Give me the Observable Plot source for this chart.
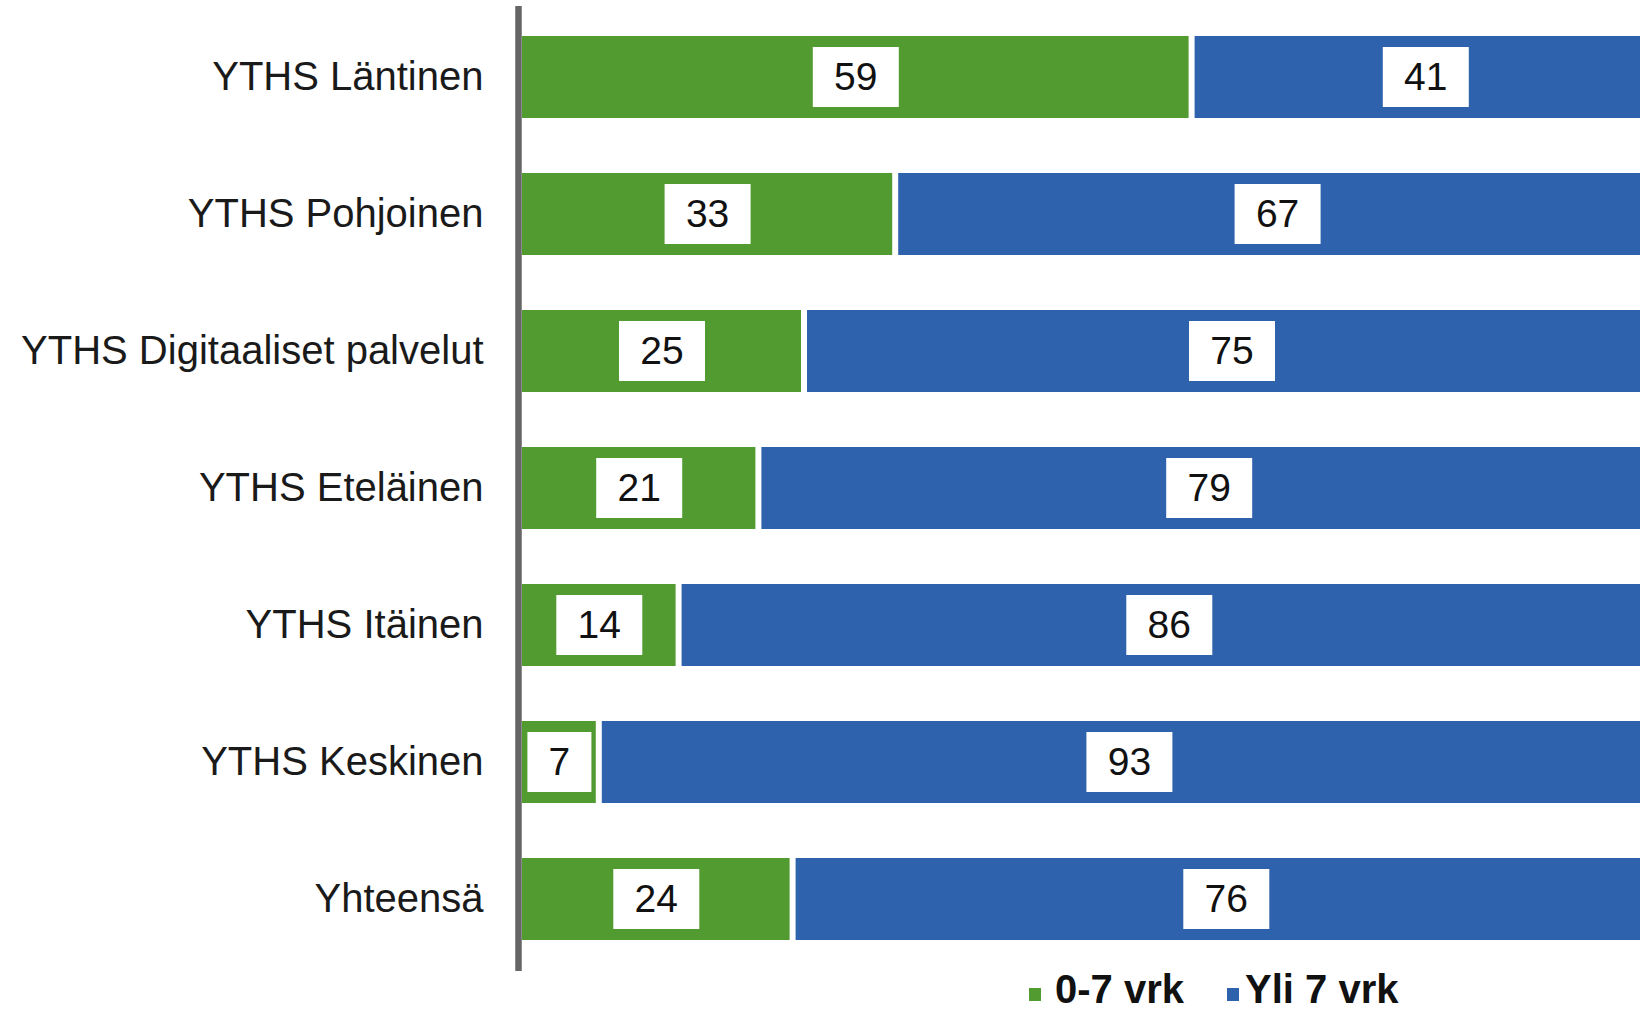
<!DOCTYPE html>
<html>
<head>
<meta charset="utf-8">
<script src="https://cdn.jsdelivr.net/npm/d3@7"></script>
<script src="https://cdn.jsdelivr.net/npm/@observablehq/plot@0.6"></script>
<style>
  html, body { margin: 0; padding: 0; background: #fff; }
  body { width: 1640px; height: 1011px; overflow: hidden; font-family: "Liberation Sans", Arial, sans-serif; }
  #chart svg { display: block; }
  #legend { position: relative; height: 36px; font: bold 40px "Liberation Sans", Arial, sans-serif; color: #111; }
  #legend .sw { position: absolute; width: 12px; height: 13px; top: 13px; }
  #legend .lb { position: absolute; top: -6px; line-height: 40px; white-space: nowrap; }
</style>
</head>
<body>
<div id="chart"></div>
<div id="legend"></div>
<script>
const categories = ["YTHS Läntinen", "YTHS Pohjoinen", "YTHS Digitaaliset palvelut", "YTHS Eteläinen", "YTHS Itäinen", "YTHS Keskinen", "Yhteensä"];
const seriesNames = ["0-7 vrk", "Yli 7 vrk"];
const shortWait = [59, 33, 25, 21, 14, 7, 24];
const longWait = [41, 67, 75, 79, 86, 93, 76];
const seriesColors = ["#529B30", "#2E62AD"];

const data = [];
categories.forEach((c, i) => {
  data.push({cat: c, series: seriesNames[0], value: shortWait[i]});
  data.push({cat: c, series: seriesNames[1], value: longWait[i]});
});

const chart = Plot.plot({
  width: 1640,
  height: 975,
  marginLeft: 519,
  marginRight: 0,
  marginTop: 6,
  marginBottom: 4,
  style: {fontFamily: "Liberation Sans, Arial, sans-serif", background: "#fff"},
  x: {domain: [0, 100], range: [519, 1659], axis: null},
  y: {domain: categories, padding: 0.4, paddingOuter: 0.2, label: null, tickSize: 0, tickPadding: 36},
  color: {domain: seriesNames, range: seriesColors},
  marks: [
    Plot.axisY({tickSize: 0, tickPadding: 36, fontSize: 40, fill: "#1a1a1a", label: null}),
    Plot.barX(data, Plot.stackX({x: "value", y: "cat", fill: "series", insetLeft: 3, insetRight: 3})),
    Plot.tickX(data, Plot.stackX({x: "value", y: "cat", stroke: "white", strokeWidth: d => String(d.value).length > 1 ? 86 : 64, insetTop: 11, insetBottom: 11})),
    Plot.text(data, Plot.stackX({x: "value", y: "cat", text: d => String(d.value), fontSize: 39, fill: "#111"})),
    Plot.ruleX([0], {stroke: "#666", strokeWidth: 6.5, dx: -1})
  ]
});
document.getElementById("chart").appendChild(chart);

const legend = document.getElementById("legend");
const legendPos = [[1029, 1055], [1227, 1245]];
seriesNames.forEach((name, i) => {
  const sw = document.createElement("div");
  sw.className = "sw";
  sw.style.left = legendPos[i][0] + "px";
  sw.style.background = seriesColors[i];
  legend.appendChild(sw);
  const lb = document.createElement("div");
  lb.className = "lb";
  lb.style.left = legendPos[i][1] + "px";
  lb.textContent = name;
  legend.appendChild(lb);
});
</script>
</body>
</html>
